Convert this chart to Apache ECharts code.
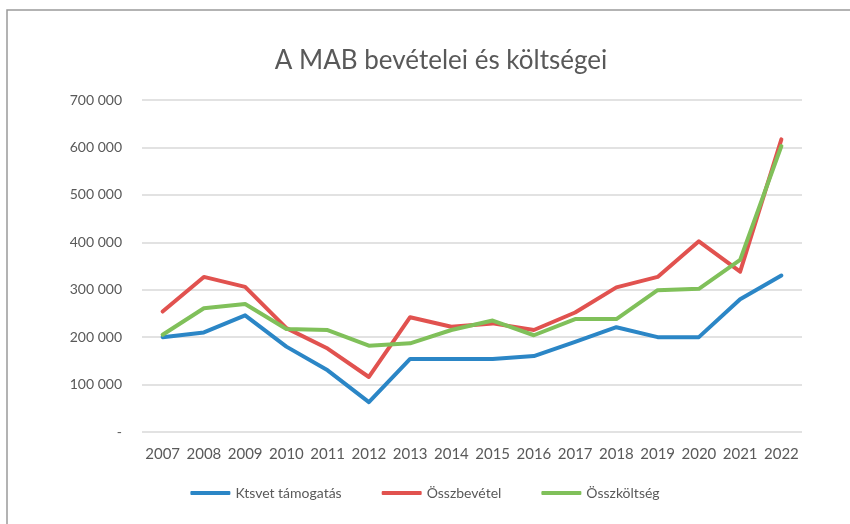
<!DOCTYPE html>
<html>
<head>
<meta charset="utf-8">
<script src="https://cdn.jsdelivr.net/npm/echarts@6/dist/echarts.min.js"></script>
<style>
  html, body { margin: 0; padding: 0; background: #fff; }
  #chart { width: 850px; height: 524px; }
</style>
</head>
<body>
<div id="chart"></div>
<script>
var years = ['2007', '2008', '2009', '2010', '2011', '2012', '2013', '2014',
    '2015', '2016', '2017', '2018', '2019', '2020', '2021', '2022'];

var ktsvet = [200000, 210000, 246000, 180000, 130000, 63000, 154000, 154000,
    154000, 160000, 190000, 221000, 200000, 200000, 280000, 330000];
var osszbevetel = [254000, 327000, 306000, 219000, 176000, 116000, 242000, 222000,
    229000, 215000, 252000, 305000, 327000, 402000, 338000, 617000];
var osszkoltseg = [205000, 261000, 270000, 217000, 215000, 182000, 187000, 215000,
    235000, 204000, 238000, 238000, 299000, 302000, 363000, 603000];

var blue = '#2b86c6';
var red = '#e1524f';
var green = '#80c05a';
var textColor = '#595959';
var fontName = 'Lato, "Open Sans", sans-serif';

function fmt(v) {
    if (v === 0) return '-';
    return String(v).replace(/\B(?=(\d{3})+(?!\d))/g, ' ');
}

function lineSeries(name, data, color) {
    return {
        name: name,
        type: 'line',
        data: data,
        symbol: 'none',
        lineStyle: { color: color, width: 4, cap: 'round', join: 'round' },
        itemStyle: { color: color }
    };
}

var mychart = echarts.init(document.getElementById('chart'));
mychart.setOption({
    animation: false,
    textStyle: { fontFamily: fontName },
    graphic: [{
        type: 'rect',
        shape: { x: 7, y: 10, width: 900, height: 600 },
        style: { fill: 'none', stroke: '#9a9a9a', lineWidth: 1.5 }
    }],
    title: {
        text: 'A MAB bevételei és költségei',
        left: 436,
        top: 43,
        textAlign: 'center',
        textStyle: { color: textColor, fontSize: 26, fontWeight: 'normal', fontFamily: fontName }
    },
    legend: {
        bottom: 19,
        left: 'center',
        itemWidth: 40,
        itemHeight: 4,
        itemGap: 40,
        icon: 'roundRect',
        textStyle: { color: textColor, fontSize: 14, fontFamily: fontName },
        data: ['Ktsvet támogatás', 'Összbevétel', 'Összköltség']
    },
    grid: {
        left: 142,
        right: 48,
        top: 100,
        bottom: 92
    },
    xAxis: {
        type: 'category',
        data: years,
        boundaryGap: true,
        axisLine: { show: false },
        axisTick: { show: false },
        axisLabel: { color: textColor, fontSize: 15, margin: 15, fontFamily: fontName, interval: 0 }
    },
    yAxis: {
        type: 'value',
        min: 0,
        max: 700000,
        interval: 100000,
        axisLine: { show: false },
        axisTick: { show: false },
        splitLine: { lineStyle: { color: '#d9d9d9', width: 1.5 } },
        axisLabel: { color: textColor, fontSize: 14, margin: 20, fontFamily: fontName, formatter: fmt }
    },
    series: [
        lineSeries('Ktsvet támogatás', ktsvet, blue),
        lineSeries('Összbevétel', osszbevetel, red),
        lineSeries('Összköltség', osszkoltseg, green)
    ]
});
</script>
</body>
</html>
